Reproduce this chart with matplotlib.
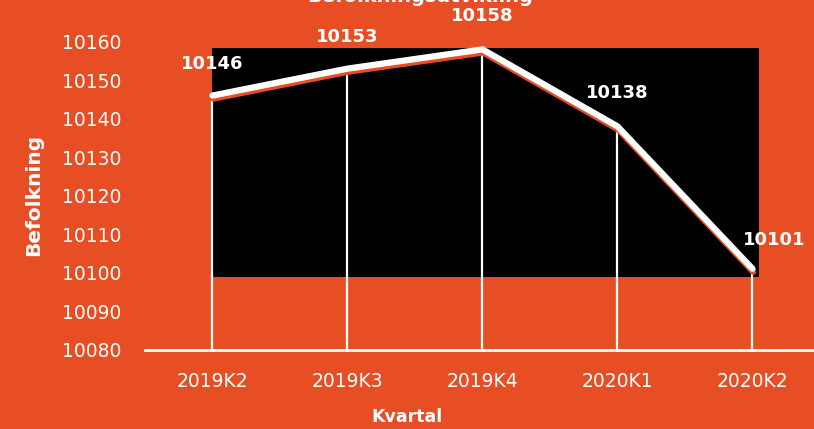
import matplotlib
matplotlib.use("Agg")
import matplotlib.pyplot as plt
import matplotlib.patheffects as pe

# data
kvartal = ["2019K2", "2019K3", "2019K4", "2020K1", "2020K2"]
befolkning = [10146, 10153, 10158, 10138, 10101]
y_ticks = [10080, 10090, 10100, 10110, 10120, 10130, 10140, 10150, 10160]
title = "Befolkningsutvikling"

orange = "#E84E24"
white = "white"

fig = plt.figure(figsize=(8.14, 4.29), dpi=100, facecolor=orange)
ax = fig.add_axes([145 / 814, 79.5 / 429, 669 / 814, 315.5 / 429])
ax.set_facecolor(orange)

x = list(range(len(kvartal)))

# svart plottområde
ax.fill_between([0, 4.05], 10098.8, 10158.4, color="black", zorder=1, linewidth=0)

# loddrette linjer ned til aksen
ax.vlines(x, 10080, befolkning, color=white, linewidth=1.6, zorder=2)

# hovedlinje med oransje skygge
ax.plot(x, befolkning, color=white, linewidth=4.5, solid_capstyle="round",
        solid_joinstyle="miter", zorder=3,
        path_effects=[pe.SimpleLineShadow(offset=(0.5, -2.2), shadow_color=orange, alpha=1),
                      pe.Normal()])

# verdietiketter
offsets = [(0, 23), (0, 23), (0, 24), (0, 24), (16, 21)]
for xi, v, off in zip(x, befolkning, offsets):
    ax.annotate(str(v), (xi, v), xytext=off, textcoords="offset points",
                ha="center", va="center", color=white, fontsize=13,
                fontweight="bold", annotation_clip=False, zorder=5)

ax.set_xlim(-0.5, 4.456)
ax.set_ylim(10080, 10162)
ax.set_xticks(x)
ax.set_xticklabels(kvartal)
ax.set_yticks(y_ticks)
ax.tick_params(axis="both", length=0, colors=white, labelsize=13.5)
ax.tick_params(axis="y", pad=17)
ax.tick_params(axis="x", pad=16)

for s in ["top", "right", "left"]:
    ax.spines[s].set_visible(False)
ax.spines["bottom"].set_color(white)
ax.spines["bottom"].set_linewidth(2)
ax.spines["bottom"].set_zorder(4)

ax.set_xlabel("Kvartal", color=white, fontsize=12.5, fontweight="bold", va="center")
ax.xaxis.set_label_coords(0.392, -0.214)
ax.set_ylabel("Befolkning", color=white, fontsize=14.5, fontweight="bold", va="center")
ax.yaxis.set_label_coords(-0.166, 0.49)

# tittelen er delvis utenfor bildet, som i originalen
fig.text(420 / 814, 1 - 2 / 429, title, ha="center", va="baseline",
         color=white, fontsize=14, fontweight="bold")

fig.savefig("out.png", dpi=100, facecolor=orange)
